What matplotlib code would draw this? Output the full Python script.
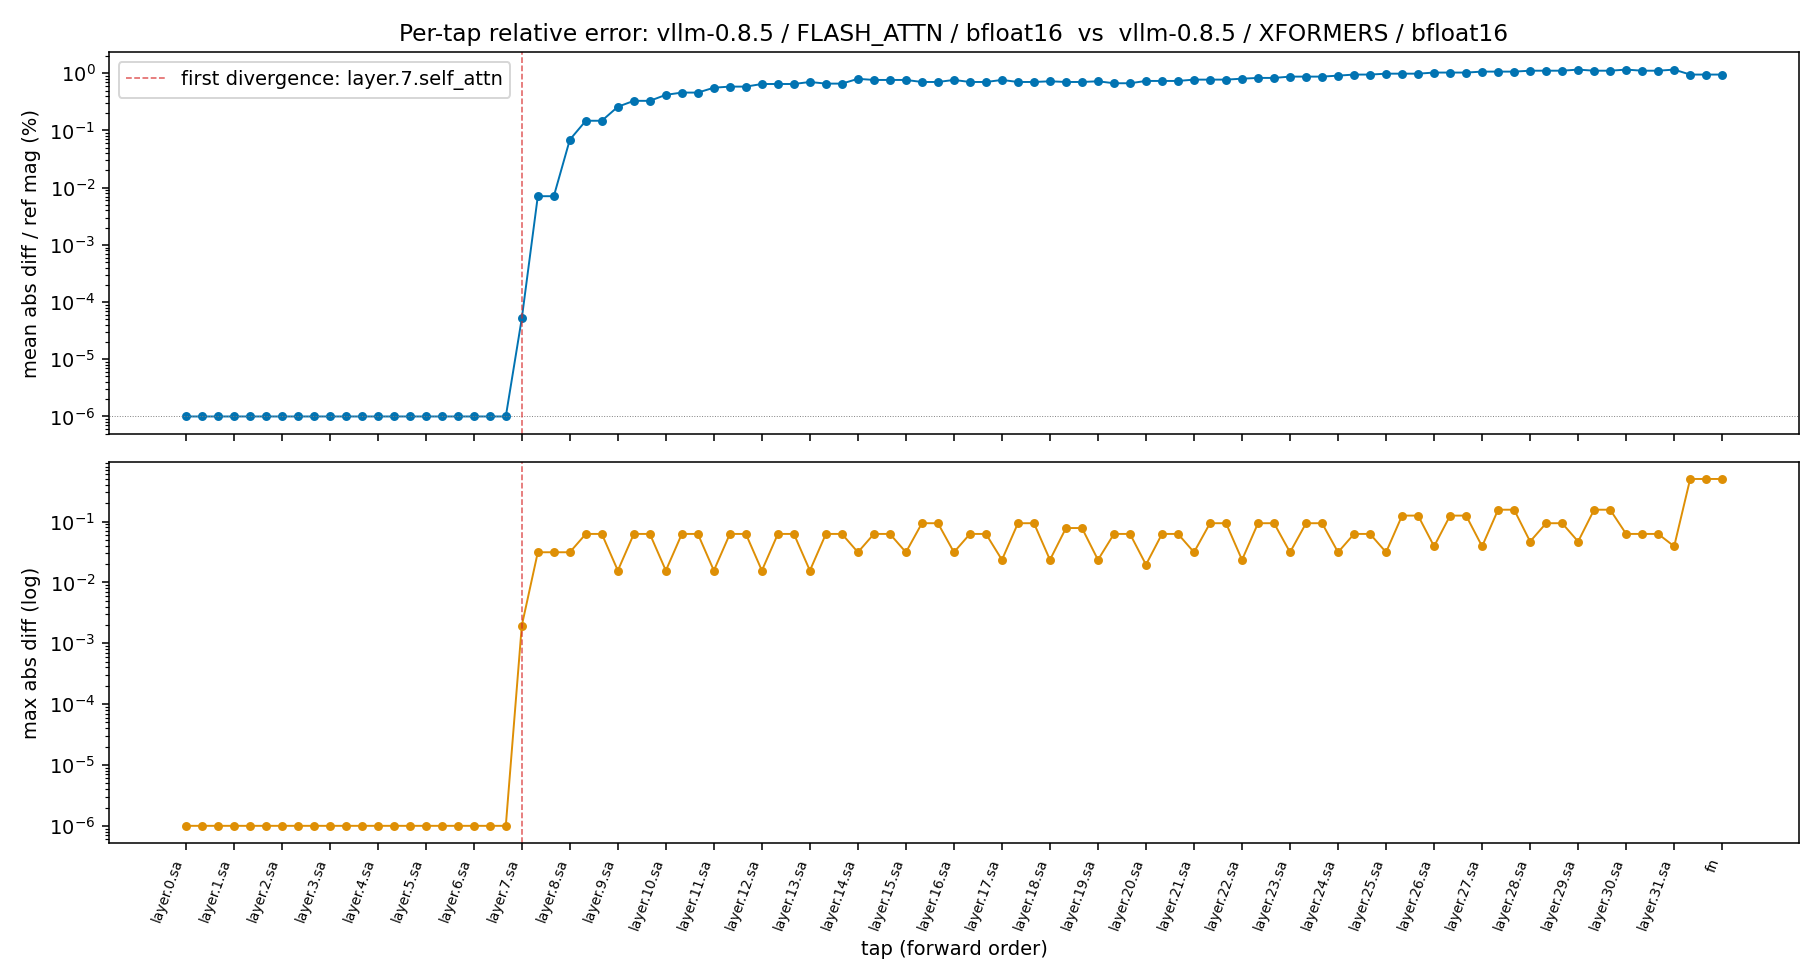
import matplotlib
matplotlib.use("Agg")
import matplotlib.pyplot as plt

# tap names in forward order: 3 taps per layer, then final norm
n_layers = 32
tap_kinds = ["sa", "mlp", "out"]
taps = [f"layer.{i}.{k}" for i in range(n_layers) for k in tap_kinds] + ["fn"]

floor = 1e-6
diverge_tap = "layer.7.sa"
diverge_label = "first divergence: layer.7.self_attn"

# mean abs diff / ref mag (%) per tap
mean_rel = (
    [floor] * 21
    + [5.2e-5, 7.1e-3, 7.1e-3]          # layer 7
    + [0.069, 0.148, 0.148]
    + [0.26, 0.33, 0.33]
    + [0.42, 0.46, 0.46]
    + [0.56, 0.585, 0.585]
    + [0.65, 0.65, 0.65]
    + [0.705, 0.66, 0.66]
    + [0.80, 0.765, 0.765]
    + [0.765, 0.705, 0.705]
    + [0.765, 0.705, 0.705]
    + [0.765, 0.705, 0.705]
    + [0.725, 0.705, 0.705]
    + [0.725, 0.67, 0.67]
    + [0.735, 0.735, 0.735]             # layer 20
    + [0.775, 0.775, 0.775]
    + [0.805, 0.83, 0.83]
    + [0.875, 0.875, 0.875]
    + [0.91, 0.95, 0.95]
    + [0.985, 0.985, 0.985]
    + [1.03, 1.03, 1.03]
    + [1.07, 1.07, 1.07]
    + [1.11, 1.11, 1.11]
    + [1.16, 1.11, 1.11]
    + [1.16, 1.11, 1.11]
    + [1.16, 0.95, 0.95]                # layer 31
    + [0.95]                            # fn
)

# max abs diff per tap
max_abs = (
    [floor] * 21
    + [0.00195, 0.03125, 0.03125]       # layer 7
    + [0.03125, 0.0625, 0.0625]
    + [0.015625, 0.0625, 0.0625]
    + [0.015625, 0.0625, 0.0625]
    + [0.015625, 0.0625, 0.0625]
    + [0.015625, 0.0625, 0.0625]
    + [0.015625, 0.0625, 0.0625]
    + [0.03125, 0.0625, 0.0625]
    + [0.03125, 0.09375, 0.09375]
    + [0.03125, 0.0625, 0.0625]
    + [0.0234375, 0.09375, 0.09375]
    + [0.0234375, 0.078125, 0.078125]
    + [0.0234375, 0.0625, 0.0625]
    + [0.01953125, 0.0625, 0.0625]      # layer 20
    + [0.03125, 0.09375, 0.09375]
    + [0.0234375, 0.09375, 0.09375]
    + [0.03125, 0.09375, 0.09375]
    + [0.03125, 0.0625, 0.0625]
    + [0.03125, 0.125, 0.125]
    + [0.0390625, 0.125, 0.125]
    + [0.0390625, 0.15625, 0.15625]
    + [0.046875, 0.09375, 0.09375]
    + [0.046875, 0.15625, 0.15625]
    + [0.0625, 0.0625, 0.0625]
    + [0.0390625, 0.5, 0.5]             # layer 31
    + [0.5]                             # fn
)

x = list(range(len(taps)))
tick_pos = [i for i, t in enumerate(taps) if t.endswith(".sa") or t == "fn"]
tick_lab = [taps[i] for i in tick_pos]
div_x = taps.index(diverge_tap)

fig, (ax1, ax2) = plt.subplots(2, 1, figsize=(13, 7), sharex=True)

ax1.plot(x, mean_rel, marker="o", ms=3.6, lw=1.0, color="#0173B2")
ax1.axhline(floor, color="gray", lw=0.5, ls=":")
ax1.axvline(div_x, color="tab:red", ls="--", lw=0.8, alpha=0.75, label=diverge_label)
ax1.set_yscale("log")
ax1.set_ylabel("mean abs diff / ref mag (%)")
ax1.set_title("Per-tap relative error: vllm-0.8.5 / FLASH_ATTN / bfloat16  vs  vllm-0.8.5 / XFORMERS / bfloat16")
ax1.legend(loc="upper left")

ax2.plot(x, max_abs, marker="o", ms=3.6, lw=1.0, color="#DE8F05")
ax2.axvline(div_x, color="tab:red", ls="--", lw=0.8, alpha=0.75)
ax2.set_yscale("log")
ax2.set_ylabel("max abs diff (log)")
ax2.set_xlabel("tap (forward order)")

ax2.set_xticks(tick_pos)
ax2.set_xticklabels(tick_lab, rotation=70, ha="right", fontsize=7)

fig.tight_layout()
fig.savefig("out.png", dpi=140)
